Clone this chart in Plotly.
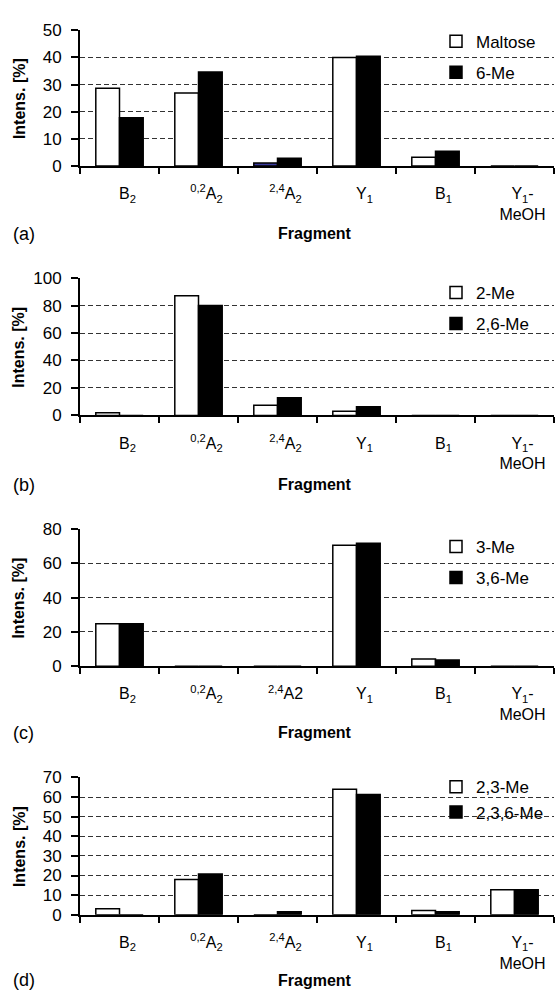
import plotly.graph_objects as go

# ---------------- data ----------------
fragments = ["B<sub>2</sub>", "<sup>0,2</sup>A<sub>2</sub>", "<sup>2,4</sup>A<sub>2</sub>",
             "Y<sub>1</sub>", "B<sub>1</sub>", "Y<sub>1</sub>-<br>MeOH"]
fragments_c = ["B<sub>2</sub>", "<sup>0,2</sup>A<sub>2</sub>", "<sup>2,4</sup>A2",
               "Y<sub>1</sub>", "B<sub>1</sub>", "Y<sub>1</sub>-<br>MeOH"]

maltose = [28.6, 26.9, 1.1, 40.0, 3.2, 0]
me6 = [17.8, 34.6, 2.8, 40.4, 5.4, 0]

me2 = [1.9, 87.1, 7.4, 3.1, 0, 0]
me26 = [0, 80.0, 12.9, 6.4, 0, 0]

me3 = [24.8, 0, 0, 70.5, 4.2, 0]
me36 = [24.8, 0, 0, 71.6, 3.6, 0]

me23 = [3.0, 18.0, 0, 64.0, 2.2, 12.7]
me236 = [0, 20.8, 1.5, 61.3, 1.5, 12.7]

panel_labels = ["(a)", "(b)", "(c)", "(d)"]
series_names = [("Maltose", "6-Me"), ("2-Me", "2,6-Me"), ("3-Me", "3,6-Me"), ("2,3-Me", "2,3,6-Me")]
y_max = [50, 100, 80, 70]
y_step = [10, 20, 20, 10]

# ---------------- layout helpers ----------------
W, H = 555, 999
ML, MR = 80, 1
PW = W - ML - MR

def px_x(p):
    return (p - ML) / PW

def px_y(p):
    return 1 - p / H

# pixel positions (top, bottom) of each plot area
panel_px = [(21.7, 160), (274.3, 414.3), (530, 670), (783.3, 923.3)]
title_px = [229, 485, 738, 990]
legend_px = [15, 271, 530, 775]
legend_gap = [6, 6, 6, 0]

FONT = "Liberation Sans, Arial, sans-serif"

fig = go.Figure()

cats = [fragments, fragments, fragments_c, fragments]
whites = [maltose, me2, me3, me23]
blacks = [me6, me26, me36, me236]

for i in range(4):
    xa = "x" if i == 0 else f"x{i+1}"
    ya = "y" if i == 0 else f"y{i+1}"
    lg = "legend" if i == 0 else f"legend{i+1}"
    wcolors = ["white"] * len(whites[i])
    if i == 0:
        wcolors[2] = "#3a3a9c"
    fig.add_trace(go.Bar(
        x=cats[i], y=whites[i], name=series_names[i][0],
        marker=dict(color=wcolors, line=dict(color="black", width=1.5)),
        xaxis=xa, yaxis=ya, legend=lg, legendgroup=f"g{i}a",
        hoverinfo="skip",
    ))
    fig.add_trace(go.Bar(
        x=cats[i], y=blacks[i], name=series_names[i][1],
        marker=dict(color="black", line=dict(color="black", width=1.5)),
        xaxis=xa, yaxis=ya, legend=lg, legendgroup=f"g{i}b",
        hoverinfo="skip",
    ))

layout = dict(
    width=W, height=H,
    margin=dict(l=ML, r=MR, t=0, b=0),
    paper_bgcolor="white", plot_bgcolor="white",
    barmode="group", bargap=0.4, bargroupgap=0,
    font=dict(family=FONT, size=16, color="black"),
    showlegend=True,
)

annotations = []
for i in range(4):
    sfx = "" if i == 0 else str(i + 1)
    top, bot = panel_px[i]
    layout[f"xaxis{sfx}"] = dict(
        domain=[0, 1], anchor=f"y{sfx}", type="category",
        range=[-0.5, 5.5], tickson="boundaries", ticks="outside",
        ticklen=6, tickwidth=1.5, tickcolor="black",
        showline=True, linecolor="black", linewidth=2,
        showgrid=False, tickfont=dict(family=FONT, size=16),
        ticklabelstandoff=12, ticklabelshift=8, fixedrange=True,
    )
    layout[f"yaxis{sfx}"] = dict(
        domain=[px_y(bot), px_y(top)], anchor=f"x{sfx}",
        range=[0, y_max[i]], dtick=y_step[i], tick0=0,
        ticks="outside", ticklen=7, tickwidth=1.5, tickcolor="black",
        showline=True, linecolor="black", linewidth=2,
        showgrid=True, gridcolor="#333333", griddash="5px,3px", gridwidth=1,
        zeroline=False, tickfont=dict(family=FONT, size=17),
        ticklabelstandoff=6, fixedrange=True,
    )
    lname = "legend" if i == 0 else f"legend{i+1}"
    layout[lname] = dict(
        x=px_x(436), y=px_y(legend_px[i]), xanchor="left", yanchor="top",
        xref="paper", yref="paper",
        bgcolor="rgba(0,0,0,0)", borderwidth=0,
        font=dict(family=FONT, size=17), tracegroupgap=legend_gap[i],
        traceorder="grouped", itemwidth=30,
    )
    # panel letter
    annotations.append(dict(
        text=panel_labels[i], x=px_x(11), y=px_y(title_px[i]),
        xref="paper", yref="paper", xanchor="left", yanchor="middle",
        showarrow=False, font=dict(family=FONT, size=18),
    ))
    # x title
    annotations.append(dict(
        text="<b>Fragment</b>", x=px_x(315), y=px_y(title_px[i]),
        xref="paper", yref="paper", xanchor="center", yanchor="middle",
        showarrow=False, font=dict(family=FONT, size=16),
    ))
    # y title
    annotations.append(dict(
        text="<b>Intens. [%]</b>", x=px_x(19), y=px_y((top + bot) / 2),
        xref="paper", yref="paper", xanchor="center", yanchor="middle",
        textangle=-90, showarrow=False, font=dict(family=FONT, size=16),
    ))

layout["annotations"] = annotations
fig.update_layout(**layout)

fig.write_html("out.html")
